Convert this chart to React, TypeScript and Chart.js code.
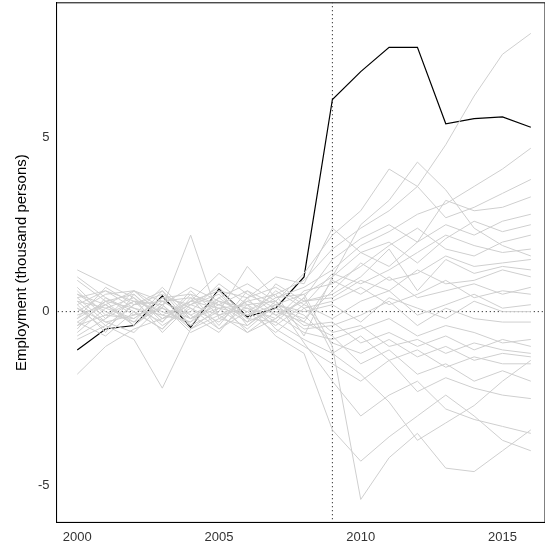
import React, { useEffect, useRef } from "react";
import { Chart, registerables } from "chart.js";
Chart.register(...registerables);

const years = [2000,2001,2002,2003,2004,2005,2006,2007,2008,2009,2010,2011,2012,2013,2014,2015,2016];
const treated = [-1.1,-0.5,-0.4,0.45,-0.45,0.65,-0.15,0.1,1.0,6.1,6.9,7.6,7.6,5.4,5.55,5.6,5.3];
const donors: number[][] = [
  [0.3,0.1,-0.2,0.4,0.2,-0.1,0.3,0.5,0.9,1.8,2.4,2.9,3.6,4.8,6.2,7.4,8.0],
  [-0.2,0.3,0.1,-0.3,0.5,0.2,-0.1,0.4,0.7,1.2,1.9,2.3,2.8,3.1,3.6,4.1,4.7],
  [0.5,0.2,0.6,0.1,-0.2,0.4,0.8,0.3,1.1,2.2,2.9,4.1,3.6,2.7,3.0,3.4,3.8],
  [-0.4,-0.1,0.3,0.2,-0.5,0.1,0.2,-0.3,0.4,1.5,2.1,2.5,2.0,3.2,2.9,3.0,3.3],
  [1.2,0.8,0.4,-0.2,0.3,0.6,-0.4,0.2,0.5,1.0,1.7,2.0,1.4,2.1,2.6,2.3,2.5],
  [0.1,-0.3,-0.6,0.2,0.7,0.3,0.1,-0.2,0.6,0.8,1.3,1.9,2.4,1.8,1.6,2.0,2.2],
  [-0.8,-0.4,0.2,0.5,0.1,-0.3,0.4,0.7,0.2,1.1,0.8,1.2,1.7,2.2,1.9,1.7,1.8],
  [0.4,0.6,0.1,-0.1,0.3,1.1,0.5,0.1,-0.2,0.6,1.4,0.9,1.1,1.6,1.3,1.4,1.5],
  [-0.1,0.2,-0.3,0.6,-0.2,0.2,0.6,-0.1,0.3,0.4,0.9,0.6,1.2,0.8,0.9,1.2,1.0],
  [0.6,-0.2,0.3,-0.4,0.1,-0.5,0.2,0.3,-0.3,0.9,0.5,1.0,0.4,0.6,0.8,0.5,0.7],
  [-0.5,0.4,-0.1,0.1,-0.4,0.4,-0.2,0.6,0.1,0.3,0.7,0.2,0.5,0.9,0.4,0.6,0.5],
  [0.2,-0.6,0.5,-0.3,0.6,-0.1,0.1,-0.4,0.2,-0.2,0.3,0.6,-0.1,0.2,0.5,0.1,0.2],
  [-1.8,-1.0,-0.5,-0.2,0.2,0.5,-0.3,0.1,-0.5,-0.4,-0.1,0.3,-0.4,0.1,-0.2,-0.3,-0.3],
  [0.9,0.3,-0.4,0.2,-0.6,-0.2,0.3,-0.1,-0.6,-0.8,-0.5,-0.2,-0.7,-0.4,-0.6,-0.9,-0.8],
  [-0.3,-0.7,0.0,-0.5,0.3,0.1,-0.5,0.2,-0.4,-0.3,-0.9,-0.6,-1.0,-0.7,-1.1,-0.8,-1.0],
  [0.0,0.5,0.6,-0.1,-0.3,0.3,0.0,-0.6,0.1,-0.6,-0.4,-1.0,-0.8,-1.2,-0.9,-1.1,-1.2],
  [0.7,-0.1,-0.2,0.4,0.5,-0.4,0.6,0.2,-0.1,-0.9,-1.2,-0.8,-1.3,-1.0,-1.4,-1.2,-1.3],
  [-0.6,0.1,0.4,-0.6,0.2,0.7,-0.2,-0.3,-0.8,-1.2,-0.7,-1.4,-1.1,-1.6,-1.3,-1.5,-1.5],
  [0.3,-0.4,-0.8,-2.2,-0.5,-0.1,-0.6,0.0,-0.3,-0.7,-1.5,-1.1,-1.8,-1.5,-2.0,-1.7,-2.0],
  [-0.2,0.7,0.2,0.3,-0.1,-0.6,0.4,-0.5,-1.0,-1.5,-2.0,-1.4,-2.3,-1.9,-2.2,-2.4,-2.5],
  [0.5,0.0,-0.3,0.1,2.2,-0.2,-0.4,0.3,-0.9,-2.0,-3.0,-2.4,-2.0,-2.8,-3.1,-3.3,-3.5],
  [-0.4,0.3,0.5,-0.2,0.0,0.8,0.2,-0.7,-1.2,-3.4,-4.3,-3.6,-3.0,-2.4,-3.0,-3.7,-4.0],
  [0.1,-0.5,0.2,0.6,-0.4,0.0,1.3,0.4,0.5,-1.0,-5.4,-4.2,-3.5,-4.5,-4.6,-4.0,-3.4],
  [1.0,0.4,0.0,-0.5,0.4,0.2,-0.3,0.8,0.3,0.5,1.0,1.8,0.6,1.5,1.1,1.3,1.2],
  [-0.3,0.2,-0.4,0.3,-0.2,0.1,-0.1,0.2,0.0,0.2,-0.3,0.4,0.1,-0.2,0.3,0.0,0.0],
  [0.2,0.6,0.3,0.0,-0.3,0.6,0.4,1.0,0.8,2.4,1.7,1.3,2.0,2.5,2.2,2.6,2.8],
  [-0.7,-0.2,0.6,0.3,0.4,-0.5,0.0,0.5,-0.7,1.0,2.5,3.2,4.3,3.5,2.4,1.9,1.6],
  [0.4,-0.3,-0.1,0.7,-0.1,0.3,-0.6,-0.2,0.4,-1.2,-1.8,-2.6,-3.7,-3.2,-2.7,-2.0,-1.4],
];

export default function App() {
  const ref = useRef<HTMLCanvasElement>(null);
  useEffect(() => {
    const toPts = (a: number[]) => a.map((v, i) => ({ x: years[i], y: v }));
    const datasets: any[] = donors.map((d) => ({
      data: toPts(d), borderColor: "#cfcfcf", borderWidth: 1, pointRadius: 0, tension: 0,
    }));
    datasets.push({ data: toPts(treated), borderColor: "#000", borderWidth: 1.2, pointRadius: 0 });
    datasets.push({ data: [{ x: 1990, y: 0 }, { x: 2030, y: 0 }], borderColor: "#000", borderWidth: 1, borderDash: [1, 3], pointRadius: 0 });
    datasets.push({ data: [{ x: 2009, y: -20 }, { x: 2009, y: 20 }], borderColor: "#000", borderWidth: 1, borderDash: [1, 3], pointRadius: 0 });
    const chart = new Chart(ref.current!, {
      type: "line",
      data: { datasets },
      options: {
        animation: false, responsive: false,
        layout: { padding: { left: 9, right: 0, top: 0, bottom: 8 } },
        plugins: { legend: { display: false }, tooltip: { enabled: false } },
        scales: {
          x: {
            type: "linear", min: 1999.27, max: 2016.5,
            afterBuildTicks: (ax: any) => { ax.ticks = [2000, 2005, 2010, 2015].map((v) => ({ value: v })); },
            grid: { display: false, drawTicks: true, tickLength: 4, color: "#333" },
            border: { display: true, color: "#000" },
            ticks: { color: "#333", font: { family: "Liberation Sans", size: 13 }, callback: (v: any) => String(v) },
          },
          y: {
            min: -6.06, max: 8.88,
            afterBuildTicks: (ax: any) => { ax.ticks = [-5, 0, 5].map((v) => ({ value: v })); },
            grid: { display: false, tickLength: 4 },
            border: { display: true, color: "#000" },
            title: { display: true, text: "Employment (thousand persons)", color: "#000", font: { family: "Liberation Sans", size: 15 } },
            ticks: { color: "#333", font: { family: "Liberation Sans", size: 13 } },
          },
        },
      },
      plugins: [{
        id: "frame",
        afterDraw: (c: any) => {
          const { ctx, chartArea: a } = c;
          ctx.save(); ctx.strokeStyle = "#000"; ctx.lineWidth = 1;
          ctx.strokeRect(a.left, a.top, a.right - a.left, a.bottom - a.top);
          ctx.restore();
        },
      }],
    });
    return () => chart.destroy();
  }, []);
  return <canvas ref={ref} width={545} height={564} style={{ position: "absolute", left: 0, top: -8 }} />;
}
